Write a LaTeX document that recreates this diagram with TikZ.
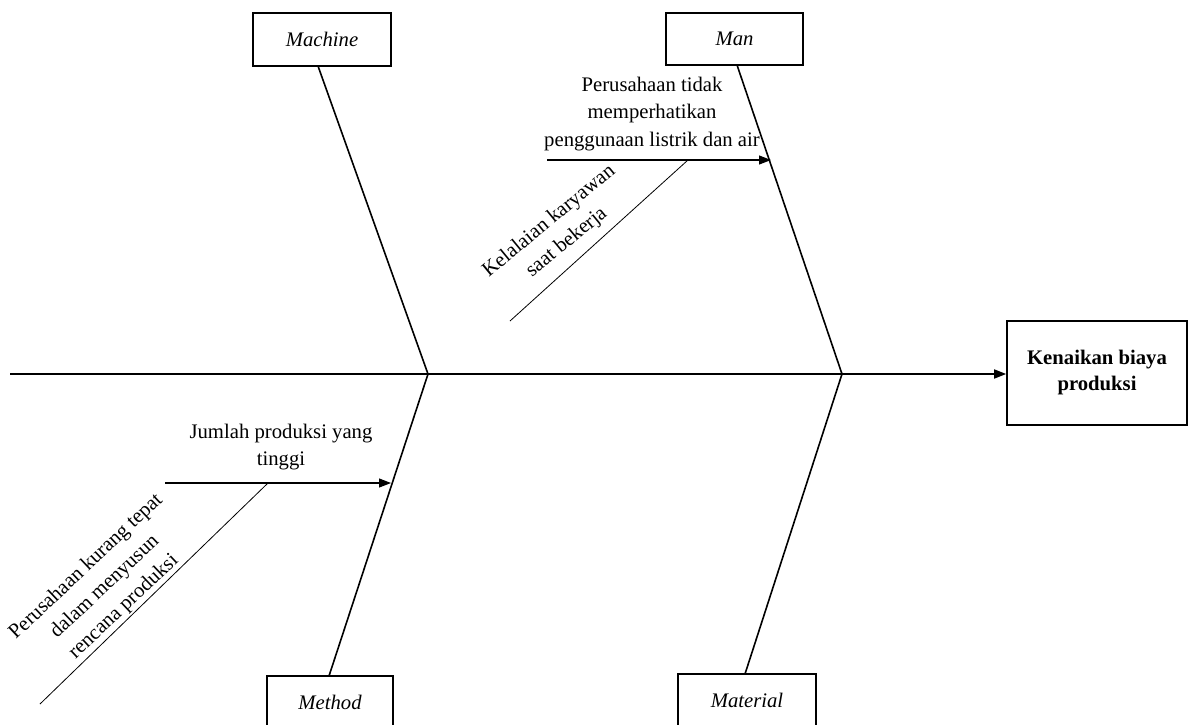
\documentclass[tikz,border=0pt]{standalone}
\usepackage{fontspec}
\setmainfont{Liberation Serif}
\usetikzlibrary{arrows.meta}
\begin{document}
\begin{tikzpicture}[x=1pt,y=-1pt,
  every node/.style={font=\fontsize{20.7}{27.5}\selectfont},
  catbox/.style={draw, line width=1.6pt, inner sep=0pt, font=\fontsize{20.7}{27.5}\selectfont\itshape},
  effbox/.style={draw, line width=1.6pt, inner sep=0pt, align=center, font=\fontsize{20.7}{26}\selectfont\bfseries},
  rib/.style={line width=1.6pt},
  subarrow/.style={line width=1.1pt, -{Triangle[length=12pt,width=9pt]}},
  diag/.style={line width=0.8pt},
  causetext/.style={align=center, inner sep=0pt}]
\useasboundingbox (0,0) rectangle (1189,724);
\clip (0,0) rectangle (1189,724);
% boxes
\node[catbox, minimum width=138pt, minimum height=53pt] (machine) at (322,39.5) {Machine};
\node[catbox, minimum width=137pt, minimum height=52pt] (man) at (734.5,39) {Man};
\node[catbox, minimum width=126pt, minimum height=52pt] (method) at (330,702) {Method};
\node[catbox, minimum width=138pt, minimum height=52pt] (material) at (747,700) {Material};
\node[effbox, minimum width=180pt, minimum height=104pt] (effect) at (1097,373) {Kenaikan biaya\\produksi};
% spine
\coordinate (s0) at (10,374);
\coordinate (j1) at (428,374);
\coordinate (j2) at (842,374);
\draw[rib, -{Triangle[length=12pt,width=9pt]}] (s0) -- (effect.west |- s0);
% ribs
\draw[rib] (318,66) -- (j1);
\draw[rib] (329,676) -- (j1);
\draw[rib] (737,65) -- (j2);
\draw[rib] (745,674) -- (j2);
% sub causes
\coordinate (a1s) at (547,160);
\coordinate (a1e) at (771,160);
\coordinate (d1s) at (688,160);
\coordinate (d1e) at (510,321);
\draw[subarrow] (a1s) -- (a1e);
\draw[diag] (d1s) -- (d1e);
\coordinate (a2s) at (165,483);
\coordinate (a2e) at (391,483);
\coordinate (d2s) at (268,483);
\coordinate (d2e) at (40,704);
\draw[subarrow] (a2s) -- (a2e);
\draw[diag] (d2s) -- (d2e);
% texts
\node[causetext] (t1) at (652,114) {Perusahaan tidak\\memperhatikan\\penggunaan listrik dan air};
\node[causetext] (t2) at (281,447) {Jumlah produksi yang\\tinggi};
\node[causetext, rotate=39.5] (t3) at (558,232) {Kelalaian karyawan\\saat bekerja};
\node[causetext, rotate=43.3] (t4) at (105,587) {Perusahaan kurang tepat\\dalam menyusun\\rencana produksi};
\end{tikzpicture}
\end{document}
